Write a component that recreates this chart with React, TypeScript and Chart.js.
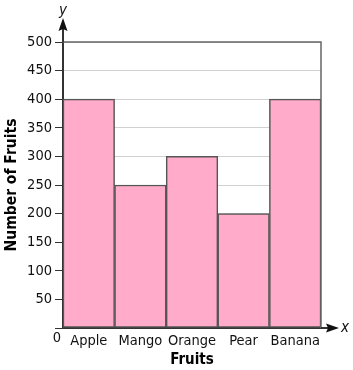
import React, { useEffect, useRef } from "react";
import { Chart, registerables } from "chart.js";

Chart.register(...registerables);

const categories = ["Apple", "Mango", "Orange", "Pear", "Banana"];
const fruitCounts = [400, 250, 300, 200, 400];
const yMin = 0;
const yMax = 500;
const yStep = 50;
const xTitle = "Fruits";
const yTitle = "Number of Fruits";

const FONT = "'DejaVu Sans Condensed', 'DejaVu Sans', Verdana, sans-serif";

const decorPlugin = {
  id: "decor",
  afterDraw(chart: any) {
    const { ctx, chartArea } = chart;
    const { left, right, top, bottom } = chartArea;
    ctx.save();
    // plot frame (top and right)
    ctx.strokeStyle = "#666666";
    ctx.lineWidth = 1.5;
    ctx.beginPath();
    ctx.moveTo(left, top);
    ctx.lineTo(right, top);
    ctx.lineTo(right, bottom);
    ctx.stroke();

    // y axis extension + arrow
    ctx.strokeStyle = "#333333";
    ctx.fillStyle = "#111111";
    ctx.lineWidth = 2;
    ctx.beginPath();
    ctx.moveTo(left, top);
    ctx.lineTo(left, top - 14);
    ctx.stroke();
    ctx.beginPath();
    ctx.moveTo(left, top - 24);
    ctx.lineTo(left - 4.5, top - 11);
    ctx.lineTo(left, top - 13);
    ctx.lineTo(left + 4.5, top - 11);
    ctx.closePath();
    ctx.fill();

    // x axis extension + arrow
    ctx.beginPath();
    ctx.moveTo(right, bottom);
    ctx.lineTo(right + 8, bottom);
    ctx.stroke();
    ctx.beginPath();
    ctx.moveTo(right + 18, bottom);
    ctx.lineTo(right + 5, bottom - 4.5);
    ctx.lineTo(right + 7, bottom);
    ctx.lineTo(right + 5, bottom + 4.5);
    ctx.closePath();
    ctx.fill();

    // axis letters
    ctx.fillStyle = "#111111";
    ctx.font = `italic 15px ${FONT}`;
    ctx.textAlign = "center";
    ctx.textBaseline = "middle";
    ctx.fillText("y", left, top - 31);
    ctx.fillText("x", right + 24, bottom);

    // origin label
    ctx.font = `14.5px ${FONT}`;
    ctx.fillStyle = "#111111";
    ctx.fillText(String(yMin), left - 6, bottom + 10);
    ctx.restore();
  },
};

export default function App() {
  const ref = useRef<HTMLCanvasElement | null>(null);

  useEffect(() => {
    if (!ref.current) return;
    const chart = new Chart(ref.current, {
      type: "bar",
      data: {
        labels: categories,
        datasets: [
          {
            label: yTitle,
            data: fruitCounts,
            backgroundColor: "#FFABC9",
            borderColor: "#555555",
            borderWidth: 1.5,
            borderSkipped: false,
            categoryPercentage: 1,
            barPercentage: 1,
          },
        ],
      },
      options: {
        responsive: false,
        animation: false,
        maintainAspectRatio: false,
        layout: { padding: { top: 42, right: 32, left: 0, bottom: 0 } },
        plugins: {
          legend: { display: false },
          tooltip: { enabled: false },
        },
        scales: {
          x: {
            grid: { display: false, drawTicks: false },
            border: { display: true, color: "#333333", width: 2 },
            ticks: {
              color: "#111111",
              padding: 5,
              autoSkip: false,
              font: { family: FONT, size: 14.5 },
              maxRotation: 0,
            },
            title: {
              display: true,
              text: xTitle,
              color: "#000000",
              font: { family: FONT, size: 15, weight: "bold" },
              padding: { top: 0, bottom: 1 },
            },
            afterFit(scale: any) {
              scale.height = 42;
            },
          },
          y: {
            min: yMin,
            max: yMax,
            grid: {
              color: "#d0d0d0",
              lineWidth: 1,
              tickColor: "#333333",
              tickLength: 8,
              tickWidth: 1,
            },
            border: { display: true, color: "#333333", width: 2 },
            ticks: {
              stepSize: yStep,
              padding: 3,
              color: "#111111",
              font: { family: FONT, size: 14.5 },
              callback: (v: any) => (Number(v) === yMin ? "" : String(v)),
            },
            title: {
              display: true,
              text: yTitle,
              color: "#000000",
              font: { family: FONT, size: 15.5, weight: "bold" },
              padding: { top: 3, bottom: 0 },
            },
            afterFit(scale: any) {
              scale.width = 63;
            },
          },
        },
      },
      plugins: [decorPlugin],
    });
    return () => chart.destroy();
  }, []);

  return (
    <div style={{ position: "absolute", left: 0, top: 0, width: 353, height: 370, background: "#fff" }}>
      <canvas ref={ref} width={353} height={370} style={{ width: 353, height: 370 }} />
    </div>
  );
}
